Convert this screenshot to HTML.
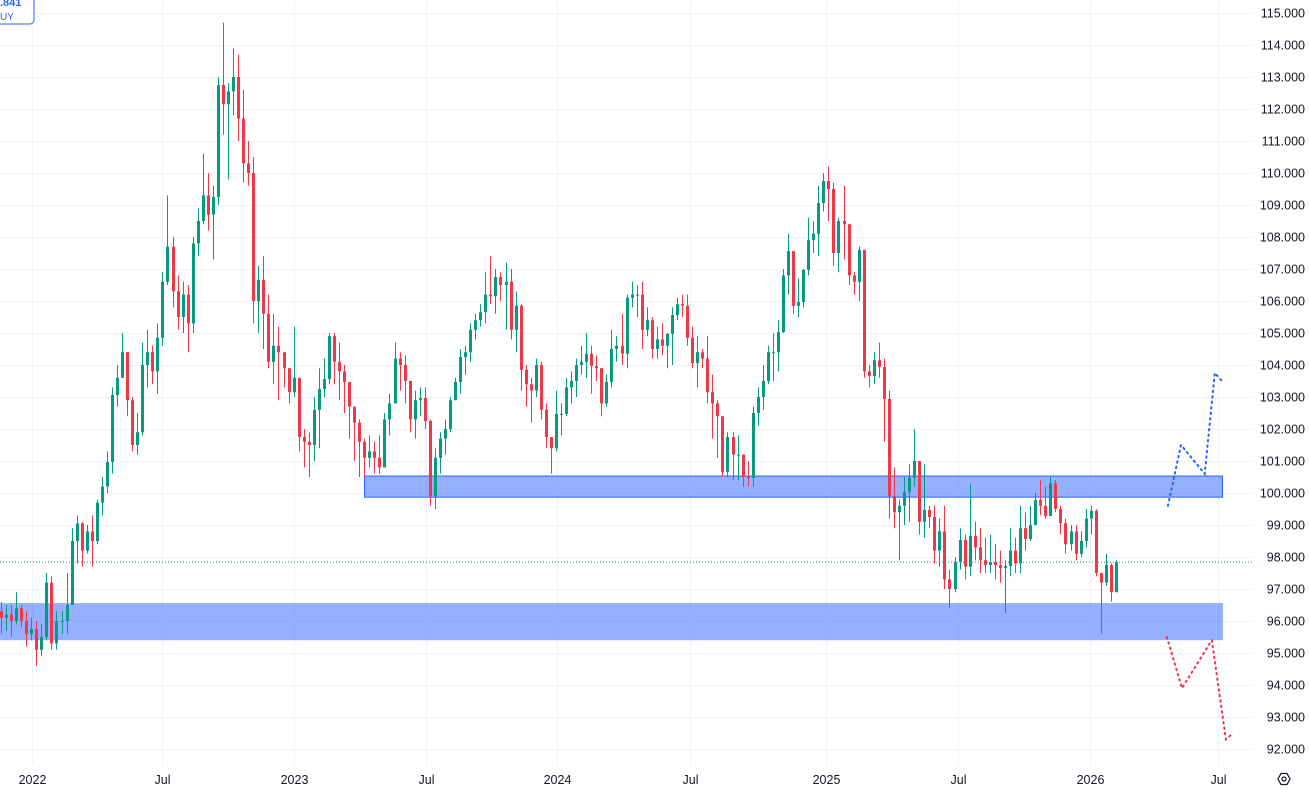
<!DOCTYPE html>
<html><head><meta charset="utf-8"><style>
html,body{margin:0;padding:0;background:#fff;}
svg{display:block;font-family:"Liberation Sans",sans-serif;}
</style></head><body>
<svg id="chart" width="1310" height="793" viewBox="0 0 1310 793" xmlns="http://www.w3.org/2000/svg">
<g id="grid"></g>
<g id="zones"></g>
<g id="candles"></g>
<g id="proj"></g>
<g id="axes"></g>
<g>
<rect x="-10" y="-8" width="44" height="32" rx="4" fill="#fff" stroke="#2962ff" stroke-width="1"/>
<text x="0" y="6" font-size="11" fill="#2962ff" font-weight="bold">.841</text>
<text x="0" y="20" font-size="10" fill="#2962ff">UY</text>
</g>
<g transform="translate(1284,779)">
<polygon points="-6,0 -3,-5.5 3,-5.5 6,0 3,5.5 -3,5.5" fill="none" stroke="#131722" stroke-width="1.2"/>
<circle cx="0" cy="0" r="2" fill="none" stroke="#131722" stroke-width="1.2"/>
</g>
</svg>
<script>
const closes=[96.1,96.2,96.0,96.4,96.0,95.6,95.75,95.1,95.5,97.2,95.3,96.0,96.0,96.5,98.5,99.05,98.2,98.8,98.5,99.7,100.2,100.97,103.06,103.6,104.4,102.9,101.5,101.9,104.0,104.4,103.8,104.85,106.6,107.7,106.3,105.5,106.2,105.3,107.8,108.5,109.3,108.7,109.25,112.75,112.15,112.55,113.0,111.7,110.3,110.0,106.0,106.66,105.6,104.1,104.6,104.4,103.9,103.15,103.6,101.75,101.6,101.5,102.6,103.25,103.56,104.9,104.1,103.8,103.47,102.7,102.2,101.6,101.1,101.3,101.1,100.8,102.3,102.8,104.2,104.0,103.5,102.3,102.9,102.97,102.25,99.9,101.1,101.7,102.0,102.9,103.47,104.25,104.4,105.1,105.4,105.65,106.2,106.15,106.75,106.5,106.6,105.1,105.85,103.85,103.4,103.2,104.0,102.6,101.75,101.4,102.47,102.47,103.3,103.5,104.0,104.1,104.35,103.97,103.9,102.8,103.47,104.5,104.6,104.35,106.1,106.2,106.2,105.1,105.4,104.5,104.8,104.6,104.97,105.56,105.9,105.85,104.85,104.06,104.4,104.2,103.15,102.8,102.4,100.66,101.75,101.2,101.2,100.5,100.47,102.5,103.0,103.5,104.4,104.4,105.03,106.8,107.56,105.85,105.97,106.97,107.9,108.1,109.06,109.75,109.5,107.5,108.5,108.4,106.8,106.6,107.6,103.8,103.66,104.15,103.94,102.94,99.9,99.4,99.6,100.03,100.47,101.0,99.1,99.47,99.25,98.2,98.8,97.3,97.0,97.84,98.53,97.7,98.66,98.3,97.9,97.75,97.84,97.75,97.66,97.72,98.2,97.8,98.9,98.56,99.0,99.78,99.6,99.28,100.3,99.5,99.06,98.4,98.8,98.1,98.5,99.2,99.44,97.5,97.2,97.75,96.9,97.841];
const highs=[96.6,96.5,96.5,96.9,96.5,96.3,96.1,96.0,95.9,97.5,97.4,96.3,96.3,97.5,98.9,99.3,99.1,99.0,99.3,99.8,100.5,101.3,103.3,104.0,105.0,104.4,103.0,102.5,104.7,105.1,104.6,105.3,106.9,109.3,108.0,106.8,106.6,106.5,108.0,108.9,110.6,110.0,109.6,113.0,114.7,112.8,113.9,113.7,112.6,111.0,110.5,107.1,107.4,106.2,105.6,105.2,104.3,103.9,105.2,103.5,102.0,101.9,103.0,103.9,104.2,105.0,105.0,104.7,104.0,103.4,102.7,102.3,101.7,101.8,101.6,101.8,102.5,103.1,104.7,104.4,104.3,103.4,103.2,103.3,103.3,102.3,101.4,101.9,102.3,103.0,103.6,104.5,104.6,105.3,105.6,105.9,106.9,107.4,107.0,106.9,107.2,107.0,106.3,105.9,104.0,103.6,104.2,104.1,102.8,101.7,103.2,102.8,103.6,103.8,104.2,104.6,105.0,104.6,104.3,103.9,103.7,105.1,104.9,105.6,106.2,106.6,106.5,106.6,105.8,105.5,105.2,105.3,105.0,105.8,106.1,106.2,106.2,105.2,104.9,104.5,104.9,103.7,102.9,102.0,101.9,101.9,101.8,101.2,101.0,102.7,103.3,104.0,104.6,105.0,105.4,107.0,108.1,107.1,106.7,107.0,108.6,108.5,109.6,110.0,110.2,109.7,108.6,109.6,108.2,106.9,107.7,107.4,104.0,104.4,104.7,104.2,103.2,100.8,99.8,100.5,100.9,102.0,101.0,100.9,99.6,99.6,99.2,99.6,97.6,98.0,98.9,98.7,100.3,99.1,98.9,98.6,98.7,98.4,98.2,97.9,98.9,98.6,99.6,99.4,99.6,100.0,100.4,100.2,100.5,100.4,99.6,99.2,99.0,99.0,98.8,99.5,99.6,99.5,97.4,98.1,97.8,97.9];
const lows=[95.6,95.7,95.5,95.9,95.8,95.2,95.4,94.6,94.9,95.4,95.1,95.1,95.6,95.6,96.5,97.8,97.7,98.1,97.7,98.4,99.3,100.0,100.6,102.7,103.6,102.4,101.3,101.2,101.8,103.3,103.4,103.1,104.6,106.5,105.8,105.1,105.0,104.4,105.0,107.4,108.4,108.2,107.3,109.0,111.2,109.8,111.8,111.0,109.7,109.6,105.3,105.0,104.5,103.9,103.4,102.9,103.3,102.8,103.0,101.3,100.8,100.5,101.0,101.4,103.0,103.4,103.4,102.9,102.5,101.7,101.0,100.5,100.5,100.8,100.6,100.6,100.8,101.8,102.8,103.2,102.8,101.9,101.7,102.4,102.0,99.6,99.5,100.6,101.2,101.9,102.9,103.1,103.7,104.1,104.8,105.2,105.3,105.9,105.6,106.0,105.1,104.8,104.4,103.2,102.7,102.2,103.0,102.3,101.4,100.6,101.3,101.8,102.4,102.8,103.0,103.7,103.6,103.1,103.5,102.4,102.7,103.3,104.1,104.0,103.9,105.8,105.5,104.5,104.9,104.2,104.2,104.3,103.9,104.0,105.4,105.5,104.6,103.9,103.3,103.9,102.8,101.7,101.1,100.5,100.5,100.4,100.4,100.2,100.2,100.2,102.1,102.6,103.4,103.5,103.8,105.0,106.2,105.6,105.5,105.8,106.8,107.5,107.4,108.8,108.5,107.1,106.9,107.3,106.5,106.2,106.0,103.6,103.3,103.4,103.6,101.6,99.2,98.9,97.9,99.0,99.1,100.2,98.7,98.6,98.9,97.8,97.7,97.0,96.4,96.9,97.6,97.3,97.4,97.9,97.5,97.5,97.5,97.3,97.2,96.25,97.4,97.5,97.5,98.2,98.5,99.0,99.3,99.2,99.3,99.4,98.7,98.1,98.2,97.9,98.0,98.3,98.7,97.4,95.6,97.1,96.6,96.9];
const priceTicks=[115,114,113,112,111,110,109,108,107,106,105,104,103,102,101,100,99,98,97,96,95,94,93,92];
const dateLabels=["2022","Jul","2023","Jul","2024","Jul","2025","Jul","2026","Jul"];
const dateWeeks=[6.2,31.9,58.1,84.3,110.3,136.5,163.5,189.7,215.9,241.2];
const upperZone=[100.53,99.87];
const lowerZone=[96.56,95.4];
const bullPath=[[231.3,99.6],[233.9,101.5],[238.6,100.6],[240.6,103.75],[242.0,103.5]];
const bearPath=[[231.1,95.5],[234.1,93.9],[240.0,95.4],[242.8,92.3],[244.2,92.5]];

const NS="http://www.w3.org/2000/svg";
const yOf=v=>13+(115-v)*32;
const xOf=i=>1+i*5.045;
function mk(tag,attrs,parent){const e=document.createElementNS(NS,tag);for(const k in attrs)e.setAttribute(k,attrs[k]);parent.appendChild(e);return e;}
const grid=document.getElementById('grid'),axes=document.getElementById('axes');
priceTicks.forEach(v=>{
  const l=mk('line',{x1:0,x2:1252,y1:yOf(v)+0.5,y2:yOf(v)+0.5,stroke:'#f0f3fa','stroke-width':1},grid);
  
  
  const t=mk('text',{x:1305,y:yOf(v)+4.5,'font-size':12.5,fill:'#131722','text-anchor':'end'},axes);
  
  
  t.textContent=v.toFixed(3);
});
dateLabels.forEach((s,k)=>{
  const x=Math.round(xOf(dateWeeks[k]))+0.5;
  const l=mk('line',{x1:x,x2:x,y1:0,y2:765,stroke:'#f0f3fa','stroke-width':1},grid);
  
  
  const t=mk('text',{x:x,y:784,'font-size':12.5,fill:'#131722','text-anchor':'middle'},axes);
  
  
  t.textContent=s;
});
const zones=document.getElementById('zones');
const z1=mk('rect',{x:364.5,y:yOf(upperZone[0]),width:858,height:yOf(upperZone[1])-yOf(upperZone[0]),fill:'rgba(41,98,255,0.5)',stroke:'#2962ff','stroke-width':1},zones);


const z2=mk('rect',{x:0,y:yOf(lowerZone[0]),width:1223,height:yOf(lowerZone[1])-yOf(lowerZone[0]),fill:'rgba(41,98,255,0.5)'},zones);


const last=closes[closes.length-1];
const pl=mk('line',{x1:0,x2:1252,y1:yOf(last),y2:yOf(last),stroke:'#089981','stroke-width':1,'stroke-dasharray':'1 2'},zones);


const cg=document.getElementById('candles');
closes.forEach((c,i)=>{
  const o=i===0?96.3:closes[i-1];
  const col=c>=o?'#089981':'#f23645';
  const x=Math.round(xOf(i));
  const g=mk('g',{},cg);
  
  
  mk('line',{x1:x+0.5,x2:x+0.5,y1:yOf(highs[i]),y2:yOf(lows[i]),stroke:col,'stroke-width':1},g);
  const top=yOf(Math.max(o,c)),bot=yOf(Math.min(o,c));
  mk('rect',{x:x-1,y:top,width:3,height:Math.max(1,bot-top),fill:col},g);
});
const pg=document.getElementById('proj');
const pts=a=>a.map(p=>xOf(p[0]).toFixed(1)+','+yOf(p[1]).toFixed(1)).join(' ');
const b=mk('polyline',{points:pts(bullPath),fill:'none',stroke:'#2962ff','stroke-width':2,'stroke-dasharray':'1.5 4','stroke-linecap':'round'},pg);


const r=mk('polyline',{points:pts(bearPath),fill:'none',stroke:'#f23645','stroke-width':2,'stroke-dasharray':'1.5 4','stroke-linecap':'round'},pg);


</script>
</body></html>
